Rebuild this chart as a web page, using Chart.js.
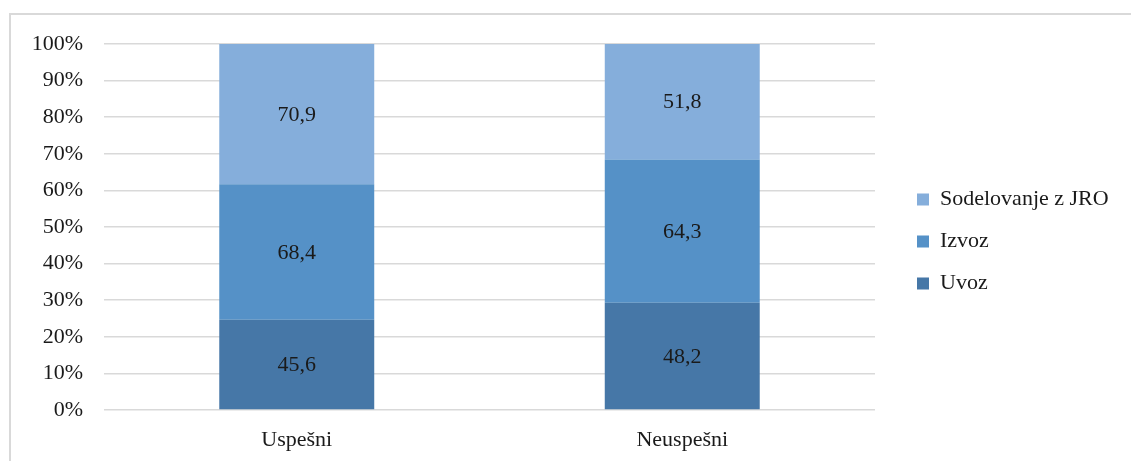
<!DOCTYPE html>
<html>
<head>
<meta charset="utf-8">
<script src="https://cdn.jsdelivr.net/npm/chart.js@4/dist/chart.umd.min.js"></script>
<style>
  html, body { margin: 0; padding: 0; background: #ffffff; overflow: hidden; }
  #wrap { position: relative; width: 1131px; height: 461px; }
</style>
</head>
<body>
<div id="wrap"><canvas id="c" width="1131" height="461"></canvas></div>
<script>
const categories = ['Uspešni', 'Neuspešni'];
const seriesNames = ['Uvoz', 'Izvoz', 'Sodelovanje z JRO'];
const uvoz = [45.6, 48.2];
const izvoz = [68.4, 64.3];
const sodelovanje = [70.9, 51.8];
const yTicks = [0, 10, 20, 30, 40, 50, 60, 70, 80, 90, 100];

const rawSeries = [uvoz, izvoz, sodelovanje];
const colors = ['#4677A7', '#5591C7', '#85AEDB'];
const totals = categories.map((_, j) => rawSeries.reduce((s, arr) => s + arr[j], 0));
const pctSeries = rawSeries.map(arr => arr.map((v, j) => v / totals[j] * 100));

const FONT = '"Liberation Serif", "Times New Roman", serif';
const FS = 22;
const TXT = '#1a1a1a';

// legend geometry helpers
const legendPad = 20, boxW = 12;
const mctx = document.createElement('canvas').getContext('2d');
mctx.font = FS + 'px ' + FONT;
const maxText = Math.max(...seriesNames.map(s => mctx.measureText(s).width));
const legendW = legendPad + boxW + FS / 2 + maxText + 10;
const padRight = Math.max(0, 1131 - 897 - legendW);

const frame = {
  id: 'frame',
  beforeDraw(chart) {
    const ctx = chart.ctx;
    ctx.save();
    ctx.strokeStyle = '#d9d9d9';
    ctx.lineWidth = 2;
    ctx.beginPath();
    ctx.moveTo(10, 461);
    ctx.lineTo(10, 14);
    ctx.lineTo(1131, 14);
    ctx.stroke();
    ctx.restore();
  }
};

const valueLabels = {
  id: 'valueLabels',
  afterDatasetsDraw(chart) {
    const ctx = chart.ctx;
    ctx.save();
    ctx.font = FS + 'px ' + FONT;
    ctx.fillStyle = TXT;
    ctx.textAlign = 'center';
    ctx.textBaseline = 'middle';
    chart.data.datasets.forEach((ds, i) => {
      const meta = chart.getDatasetMeta(i);
      meta.data.forEach((bar, j) => {
        const p = bar.getProps(['x', 'y', 'base'], true);
        ctx.fillText(rawSeries[i][j].toFixed(1).replace('.', ','), p.x, (p.y + p.base) / 2 + 1);
      });
    });
    ctx.restore();
  }
};

new Chart(document.getElementById('c'), {
  type: 'bar',
  data: {
    labels: categories,
    datasets: seriesNames.map((name, i) => ({
      label: name,
      data: pctSeries[i],
      backgroundColor: colors[i],
      borderWidth: 0,
      categoryPercentage: 1,
      barPercentage: 0.402
    }))
  },
  options: {
    responsive: false,
    animation: false,
    events: [],
    layout: { padding: { left: 0, right: padRight, top: 27, bottom: 5 } },
    plugins: {
      tooltip: { enabled: false },
      title: {
        display: true,
        text: ' ',
        padding: 0,
        font: { size: 17, lineHeight: 1 }
      },
      legend: {
        position: 'right',
        reverse: true,
        maxWidth: 234,
        labels: {
          boxWidth: boxW,
          boxHeight: boxW,
          padding: legendPad,
          color: TXT,
          font: { family: FONT, size: FS }
        }
      }
    },
    scales: {
      x: {
        stacked: true,
        grid: { display: false, drawTicks: false },
        border: { display: false },
        ticks: { color: TXT, font: { family: FONT, size: FS }, padding: 17, maxRotation: 0 },
        afterFit(scale) { scale.height = 46; }
      },
      y: {
        stacked: true,
        min: 0,
        max: 100,
        afterBuildTicks(scale) { scale.ticks = yTicks.map(v => ({ value: v })); },
        grid: { color: '#d9d9d9', lineWidth: 1.5, drawTicks: false },
        border: { display: false },
        ticks: {
          color: TXT,
          font: { family: FONT, size: FS },
          padding: 21,
          callback: v => v + '%'
        },
        afterFit(scale) { scale.width = 104; }
      },
      y2: {
        position: 'right',
        display: true,
        grid: { display: false, drawTicks: false },
        border: { display: false },
        ticks: { display: false },
        afterFit(scale) { scale.width = 22; }
      }
    }
  },
  plugins: [frame, valueLabels]
});
</script>
</body>
</html>
